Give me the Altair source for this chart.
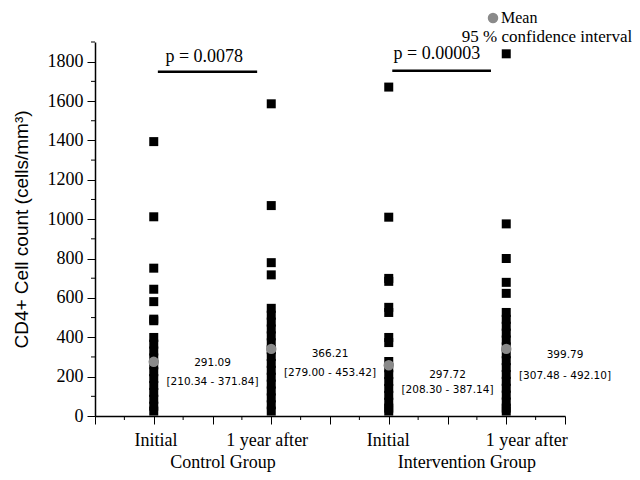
import altair as alt
import pandas as pd

# ---- data ----
group_x = [1, 3, 5, 7]
ctrl_initial = [1394, 1012, 751, 644, 581, 492, 484, 399, 365, 330, 295, 260, 225, 190, 155, 120, 85, 50, 25]
ctrl_after = [1586, 1069, 779, 717, 547, 512, 477, 442, 407, 372, 337, 302, 267, 232, 197, 162, 127, 92, 57, 25]
int_initial = [1671, 1010, 699, 684, 552, 526, 399, 373, 277, 245, 210, 175, 140, 105, 70, 40, 25]
int_after = [1840, 976, 800, 679, 623, 526, 491, 456, 421, 386, 351, 316, 281, 246, 211, 176, 141, 106, 71, 40, 25]
mean_drawn = [275, 341, 258, 341]
mean_text = ["291.09", "366.21", "297.72", "399.79"]
ci_text = ["[210.34 - 371.84]", "[279.00 - 453.42]", "[208.30 - 387.14]", "[307.48 - 492.10]"]
ann_x = [2, 4, 6, 8]
ann_mean_y = [269, 315, 208, 310]
ann_ci_y = [173, 219, 132, 203]
p_text = ["p = 0.0078", "p = 0.00003"]
p_text_x = [1.86, 5.82]
p_text_y = [1825, 1840]
p_line_x = [1.07, 5.06]
p_line_x2 = [2.76, 6.74]
p_line_y = [1749, 1754]
cond_labels = ["Initial", "1 year after", "Initial", "1 year after"]
cond_x = [1.04, 2.93, 4.99, 7.35]
group_labels = ["Control Group", "Intervention Group"]
group_lx = [2.18, 6.33]
y_major = list(range(0, 1801, 200))
y_minor = list(range(100, 1901, 200))
x_major = list(range(0, 9))
x_minor = [0.5, 1.5, 2.5, 3.5, 4.5, 5.5, 6.5, 7.5]

W, H = 470, 374
SERIF = "Liberation Serif"

rows = []
for gx, vals in zip(group_x, [ctrl_initial, ctrl_after, int_initial, int_after]):
    for v in vals:
        rows.append({"x": gx, "v": v})
pts = pd.DataFrame(rows)
means = pd.DataFrame({"x": group_x, "v": mean_drawn})
ann_m = pd.DataFrame({"x": ann_x, "v": ann_mean_y, "t": mean_text})
ann_c = pd.DataFrame({"x": ann_x, "v": ann_ci_y, "t": ci_text})
ptxt = pd.DataFrame({"x": p_text_x, "v": p_text_y, "t": p_text})
plin = pd.DataFrame({"x": p_line_x, "x2": p_line_x2, "v": p_line_y})
condf = pd.DataFrame({"x": cond_x, "t": cond_labels})
grpf = pd.DataFrame({"x": group_lx, "t": group_labels})
yminf = pd.DataFrame({"v": y_minor})
xminf = pd.DataFrame({"x": x_minor})
one = pd.DataFrame({"a": [0]})

xsc = alt.Scale(domain=[0, 8], nice=False, zero=False)
ysc = alt.Scale(domain=[0, 1900], nice=False)
xaxis = alt.Axis(values=x_major, tickSize=8, labels=False, title=None, grid=False,
                 domainColor="black", tickColor="black", domainWidth=1.5, tickWidth=1)
yaxis = alt.Axis(values=y_major, format="d", tickSize=8, labelFont=SERIF, labelFontSize=18,
                 labelColor="black", labelPadding=4, grid=False,
                 domainColor="black", tickColor="black", domainWidth=1.5, tickWidth=1,
                 title="CD4+ Cell count (cells/mm³)", titleFont="Liberation Sans",
                 titleFontSize=19, titleFontWeight="normal", titleColor="black",
                 titleX=-74, titleY=H / 2, titleAngle=270, titleAlign="center",
                 titleBaseline="middle")

def X(f="x"):
    return alt.X(f + ":Q", scale=xsc, axis=xaxis)

def Y(f="v"):
    return alt.Y(f + ":Q", scale=ysc, axis=yaxis)

points = alt.Chart(pts).mark_square(size=81, color="black", opacity=1, filled=True).encode(x=X(), y=Y())
mean_pts = alt.Chart(means).mark_circle(size=110, color="#8a8a8a", opacity=1).encode(x=X(), y=Y())
t_mean = alt.Chart(ann_m).mark_text(font="DejaVu Sans", fontSize=10.5, color="black").encode(x=X(), y=Y(), text="t:N")
t_ci = alt.Chart(ann_c).mark_text(font="DejaVu Sans", fontSize=10.5, color="black").encode(x=X(), y=Y(), text="t:N")
p_t = alt.Chart(ptxt).mark_text(font=SERIF, fontSize=18, color="black").encode(x=X(), y=Y(), text="t:N")
p_l = alt.Chart(plin).mark_rule(strokeWidth=2.5, color="black").encode(x=X(), x2="x2:Q", y=Y())
ymin = alt.Chart(yminf).mark_rule(color="black", strokeWidth=1).encode(
    y=Y(), x=alt.value(-4), x2=alt.value(0))
xmin = alt.Chart(xminf).mark_rule(color="black", strokeWidth=1).encode(
    x=X(), y=alt.value(H), y2=alt.value(H + 4))
cond = alt.Chart(condf).mark_text(font=SERIF, fontSize=18, color="black", baseline="middle").encode(
    x=X(), y=alt.value(H + 25), text="t:N")
grp = alt.Chart(grpf).mark_text(font=SERIF, fontSize=18, color="black", baseline="middle").encode(
    x=X(), y=alt.value(H + 47), text="t:N")
leg_c = alt.Chart(one).mark_circle(size=110, color="#8a8a8a", opacity=1).encode(
    x=alt.value(398), y=alt.value(-24))
leg_m = alt.Chart(one).mark_text(font=SERIF, fontSize=16, color="black", align="left", baseline="middle", text="Mean").encode(
    x=alt.value(406), y=alt.value(-24))
leg_ci = alt.Chart(one).mark_text(font=SERIF, fontSize=17, color="black", align="center", baseline="middle",
                                  text="95 % confidence interval").encode(
    x=alt.value(452), y=alt.value(-5))

chart = alt.layer(points, mean_pts, t_mean, t_ci, p_t, p_l, ymin, xmin, cond, grp, leg_c, leg_m, leg_ci).properties(
    width=W, height=H,
    padding={"left": 87, "top": 34, "right": 67, "bottom": 56},
    autosize=alt.AutoSizeParams(type="none"),
).configure_view(stroke=None)

chart.save("out.html", embed_options={"renderer": "svg", "actions": False})
